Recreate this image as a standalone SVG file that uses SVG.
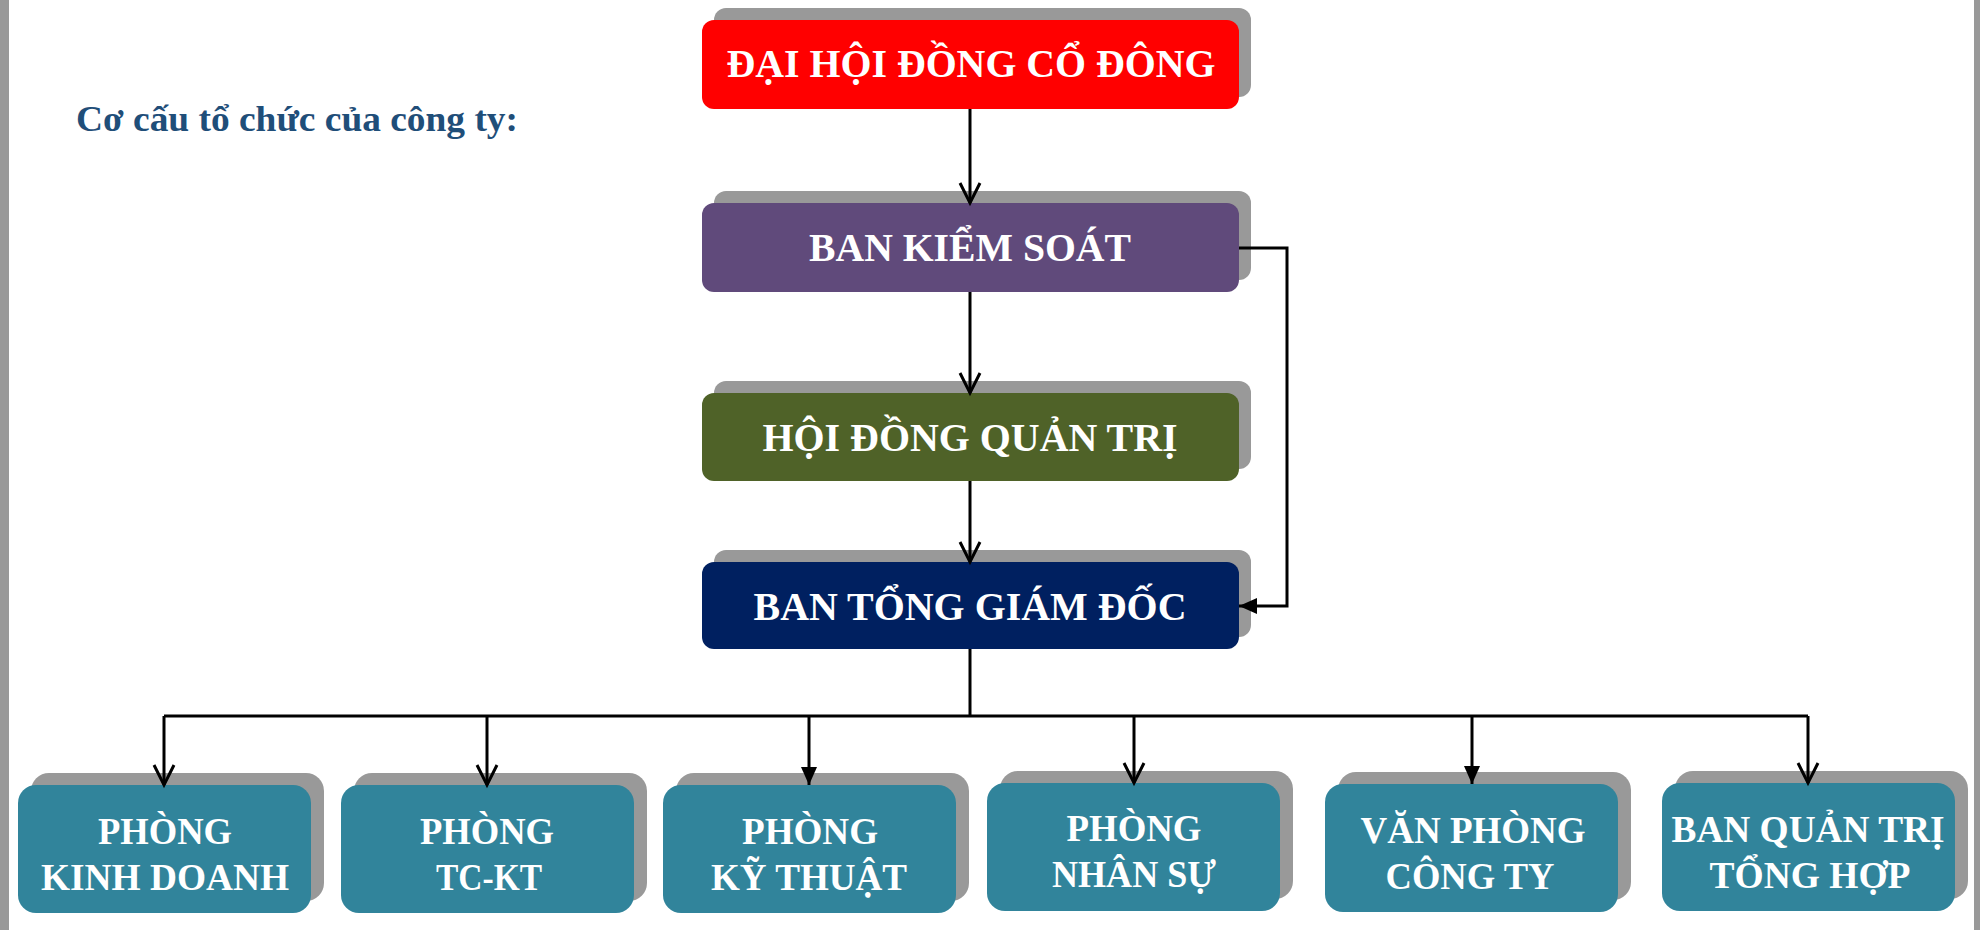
<svg xmlns="http://www.w3.org/2000/svg" width="1980" height="930" viewBox="0 0 1980 930">
<defs>
<style>
.sh{fill:#999999}
.t{font-family:"Liberation Serif","Times New Roman",serif;font-weight:bold;fill:#ffffff;text-anchor:middle}
.tt{font-size:41px}
.tb{font-size:38px}
.ln{fill:none;stroke:#000;stroke-width:3}
.red{fill:#FF0000}.pur{fill:#604A7B}.grn{fill:#4F6228}.nav{fill:#002060}.teal{fill:#31849B}
</style>
<marker id="open" markerUnits="userSpaceOnUse" markerWidth="26" markerHeight="26" viewBox="0 0 26 26" refX="22" refY="13" orient="auto">
<path d="M2,3 L22,13 L2,23" fill="none" stroke="#000" stroke-width="3"/>
</marker>
<marker id="fill" markerUnits="userSpaceOnUse" markerWidth="26" markerHeight="26" viewBox="0 0 26 26" refX="19" refY="13" orient="auto">
<path d="M1,5 L19,13 L1,21 z" fill="#000"/>
</marker>
</defs>
<rect width="1980" height="930" fill="#fff"/>
<rect x="0" y="0" width="9" height="930" fill="#999999"/>
<rect x="1974" y="0" width="6" height="930" fill="#999999"/>
<text x="76" y="131" font-family="'Liberation Serif','Times New Roman',serif" font-weight="bold" font-size="36" fill="#1F4E79" textLength="442" lengthAdjust="spacingAndGlyphs">Cơ cấu tổ chức của công ty:</text>

<g id="n-dhdcd">
<rect class="sh" x="714" y="8" width="537" height="89" rx="12"/>
<rect class="red" x="702" y="20" width="537" height="89" rx="12"/>
<text class="t tt" x="971" y="77" textLength="489" lengthAdjust="spacingAndGlyphs">ĐẠI HỘI ĐỒNG CỔ ĐÔNG</text>
</g>
<g id="n-bks">
<rect class="sh" x="714" y="191" width="537" height="89" rx="12"/>
<rect class="pur" x="702" y="203" width="537" height="89" rx="12"/>
<text class="t tt" x="970" y="261" textLength="322" lengthAdjust="spacingAndGlyphs">BAN KIỂM SOÁT</text>
</g>
<g id="n-hdqt">
<rect class="sh" x="714" y="381" width="537" height="88" rx="12"/>
<rect class="grn" x="702" y="393" width="537" height="88" rx="12"/>
<text class="t tt" x="970" y="451" textLength="415" lengthAdjust="spacingAndGlyphs">HỘI ĐỒNG QUẢN TRỊ</text>
</g>
<g id="n-btgd">
<rect class="sh" x="714" y="550" width="537" height="87" rx="12"/>
<rect class="nav" x="702" y="562" width="537" height="87" rx="12"/>
<text class="t tt" x="970" y="620" textLength="433" lengthAdjust="spacingAndGlyphs">BAN TỔNG GIÁM ĐỐC</text>
</g>

<g id="n-pkd">
<rect class="sh" x="31" y="773" width="293" height="128" rx="18"/>
<rect class="teal" x="18" y="785" width="293" height="128" rx="18"/>
<text class="t tb" x="165" y="844" textLength="134" lengthAdjust="spacingAndGlyphs">PHÒNG</text>
<text class="t tb" x="165" y="890" textLength="248" lengthAdjust="spacingAndGlyphs">KINH DOANH</text>
</g>
<g id="n-ptckt">
<rect class="sh" x="354" y="773" width="293" height="128" rx="18"/>
<rect class="teal" x="341" y="785" width="293" height="128" rx="18"/>
<text class="t tb" x="487" y="844" textLength="134" lengthAdjust="spacingAndGlyphs">PHÒNG</text>
<text class="t tb" x="489" y="890" textLength="106" lengthAdjust="spacingAndGlyphs">TC-KT</text>
</g>
<g id="n-pkt">
<rect class="sh" x="676" y="773" width="293" height="128" rx="18"/>
<rect class="teal" x="663" y="785" width="293" height="128" rx="18"/>
<text class="t tb" x="810" y="844" textLength="136" lengthAdjust="spacingAndGlyphs">PHÒNG</text>
<text class="t tb" x="809" y="890" textLength="196" lengthAdjust="spacingAndGlyphs">KỸ THUẬT</text>
</g>
<g id="n-pns">
<rect class="sh" x="1000" y="771" width="293" height="128" rx="18"/>
<rect class="teal" x="987" y="783" width="293" height="128" rx="18"/>
<text class="t tb" x="1134" y="841" textLength="135" lengthAdjust="spacingAndGlyphs">PHÒNG</text>
<text class="t tb" x="1134" y="887" textLength="164" lengthAdjust="spacingAndGlyphs">NHÂN SỰ</text>
</g>
<g id="n-vpct">
<rect class="sh" x="1338" y="772" width="293" height="128" rx="18"/>
<rect class="teal" x="1325" y="784" width="293" height="128" rx="18"/>
<text class="t tb" x="1473" y="843" textLength="225" lengthAdjust="spacingAndGlyphs">VĂN PHÒNG</text>
<text class="t tb" x="1470" y="889" textLength="169" lengthAdjust="spacingAndGlyphs">CÔNG TY</text>
</g>
<g id="n-bqtth">
<rect class="sh" x="1675" y="771" width="293" height="128" rx="18"/>
<rect class="teal" x="1662" y="783" width="293" height="128" rx="18"/>
<text class="t tb" x="1808" y="842" textLength="273" lengthAdjust="spacingAndGlyphs">BAN QUẢN TRỊ</text>
<text class="t tb" x="1810" y="888" textLength="201" lengthAdjust="spacingAndGlyphs">TỔNG HỢP</text>
</g>

<g id="connectors">
<path class="ln" d="M970,109 V203" marker-end="url(#open)"/>
<path class="ln" d="M970,292 V393" marker-end="url(#open)"/>
<path class="ln" d="M970,481 V562" marker-end="url(#open)"/>
<path class="ln" d="M1239,248 H1287 V606 H1239" marker-end="url(#fill)"/>
<path class="ln" d="M970,649 V716"/>
<path class="ln" d="M164,716 H1808"/>
<path class="ln" d="M164,716 V785" marker-end="url(#open)"/>
<path class="ln" d="M487,716 V785" marker-end="url(#open)"/>
<path class="ln" d="M809,716 V785" marker-end="url(#fill)"/>
<path class="ln" d="M1134,716 V783" marker-end="url(#open)"/>
<path class="ln" d="M1472,716 V784" marker-end="url(#fill)"/>
<path class="ln" d="M1808,716 V783" marker-end="url(#open)"/>
</g>
</svg>
